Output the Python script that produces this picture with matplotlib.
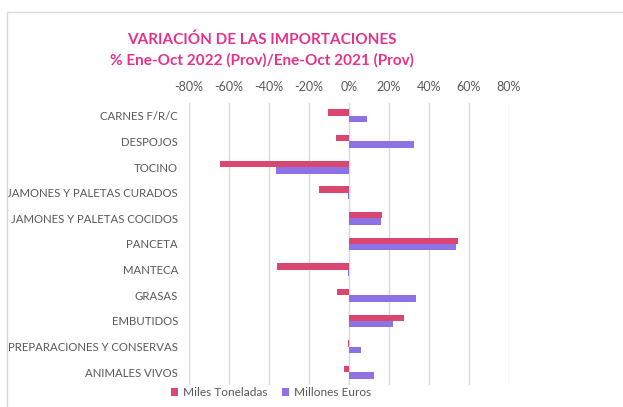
import matplotlib.pyplot as plt
import matplotlib.patches as mpatches
import numpy as np

plt.rcParams['font.family'] = ['Lato', 'DejaVu Sans']

categories = ['CARNES F/R/C', 'DESPOJOS', 'TOCINO', 'JAMONES Y PALETAS CURADOS',
              'JAMONES Y PALETAS COCIDOS', 'PANCETA', 'MANTECA', 'GRASAS',
              'EMBUTIDOS', 'PREPARACIONES Y CONSERVAS', 'ANIMALES VIVOS']
miles_toneladas = [-10.3, -6.5, -64.3, -15.0, 16.7, 54.3, -35.8, -5.8, 27.5, -0.7, -2.7]
millones_euros = [8.8, 32.7, -36.5, -0.5, 16.2, 53.3, -0.5, 33.5, 22.2, 6.0, 12.3]
xticks = [-80, -60, -40, -20, 0, 20, 40, 60, 80]

red = '#D9466F'
purple = '#8C72E4'
grey_text = '#595959'

fig = plt.figure(figsize=(6.23, 4.07), dpi=100)
ax = fig.add_axes([189/623, 1 - 385/407, 320/623, 282/407])

# light frame around the chart area
fig.patches.append(mpatches.Rectangle((7/623, -0.1), 1.2, 1 - 12/407 + 0.1,
                                      transform=fig.transFigure, fill=False,
                                      edgecolor='#D9D9D9', linewidth=1))

y = np.arange(len(categories))
h = 0.25
ax.barh(y - h/2, miles_toneladas, height=h, color=red, label='Miles Toneladas', zorder=3)
ax.barh(y + h/2, millones_euros, height=h, color=purple, label='Millones Euros', zorder=3)

ax.set_ylim(len(categories) - 0.5, -0.5)
ax.set_yticks(y)
ax.set_yticklabels(categories, fontsize=8.2, color=grey_text)
ax.set_xlim(-80, 80)
ax.set_xticks(xticks)
ax.set_xticklabels([f'{v}%' for v in xticks], fontsize=9, color=grey_text)
ax.xaxis.tick_top()
ax.tick_params(axis='x', length=0, pad=7)
ax.tick_params(axis='y', length=0, pad=8)
ax.grid(axis='x', color='#D9D9D9', linewidth=1, zorder=0)
for spine in ax.spines.values():
    spine.set_visible(False)

fig.text(262/623, 1 - 40/407, 'VARIACIÓN DE LAS IMPORTACIONES', ha='center', va='center',
         fontsize=11, fontweight='bold', color='#E6318A')
fig.text(262/623, 1 - 60/407, '% Ene-Oct 2022 (Prov)/Ene-Oct 2021 (Prov)', ha='center', va='center',
         fontsize=11, fontweight='bold', color='#E6318A')

fig.legend(loc='center', bbox_to_anchor=(271/623, 1 - 393/407), ncol=2, frameon=False,
           fontsize=8.6, labelcolor=grey_text, handlelength=0.6, handleheight=0.6,
           handletextpad=0.4, columnspacing=1.2)

fig.savefig('out.png', dpi=100)
